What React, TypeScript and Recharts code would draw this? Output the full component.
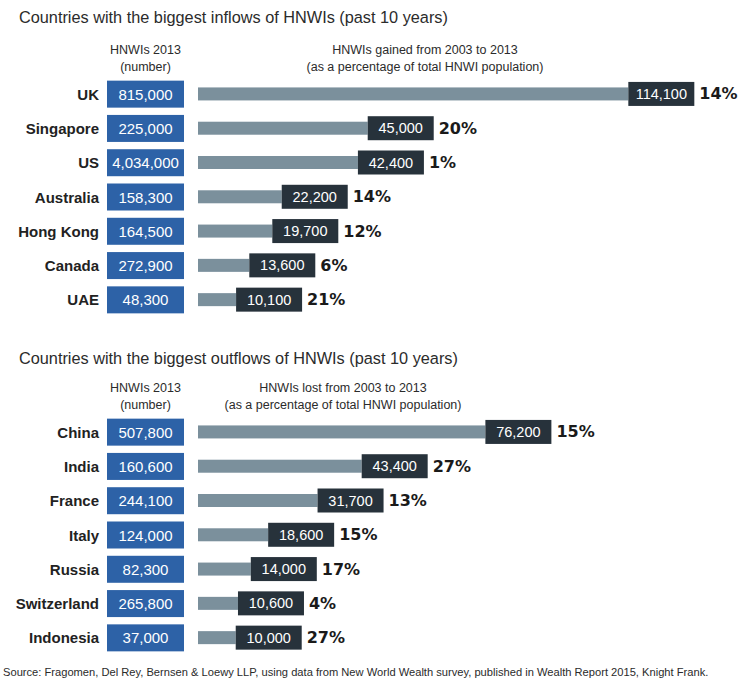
import { BarChart, Bar, XAxis, YAxis } from "recharts";

// Inflows: HNWIs in 2013 and HNWIs gained 2003-2013
const inflowCountries = ["UK", "Singapore", "US", "Australia", "Hong Kong", "Canada", "UAE"];
const inflowTotals = [815000, 225000, 4034000, 158300, 164500, 272900, 48300];
const inflowGained = [114100, 45000, 42400, 22200, 19700, 13600, 10100];
const inflowPct = [14, 20, 1, 14, 12, 6, 21];

// Outflows: HNWIs in 2013 and HNWIs lost 2003-2013
const outflowCountries = ["China", "India", "France", "Italy", "Russia", "Switzerland", "Indonesia"];
const outflowTotals = [507800, 160600, 244100, 124000, 82300, 265800, 37000];
const outflowLost = [76200, 43400, 31700, 18600, 14000, 10600, 10000];
const outflowPct = [15, 27, 13, 15, 17, 4, 27];

const FONT = '"Liberation Sans", Arial, sans-serif';
const BLUE = "#2d62a7";
const GREY = "#7b909c";
const DARK = "#27323b";
const TEXT = "#2b2b2b";

const X_MAX = 140000;
const LABEL_BOX = 66;

type Row = { country: string; total: number; change: number; pct: number };

const buildRows = (countries: string[], totals: number[], changes: number[], pcts: number[]): Row[] =>
  countries.map((country, i) => ({ country, total: totals[i], change: changes[i], pct: pcts[i] }));

const inflowRows = buildRows(inflowCountries, inflowTotals, inflowGained, inflowPct);
const outflowRows = buildRows(outflowCountries, outflowTotals, outflowLost, outflowPct);

const fmt = (v: number) => v.toLocaleString("en-US");

// country name + blue box with the 2013 total, drawn at each category tick
function CountryTick(props: any) {
  const { y, payload, rows } = props;
  const row = (rows as Row[]).find((r) => r.country === payload.value);
  return (
    <g>
      <text x={99} y={y} textAnchor="end" dominantBaseline="central" fontWeight="bold" fontSize={15} fill="#222">
        {payload.value}
      </text>
      <rect x={107} y={y - 13.5} width={77} height={27} fill={BLUE} />
      <text x={145.5} y={y} textAnchor="middle" dominantBaseline="central" fontSize={15} fill="#fff">
        {row ? fmt(row.total) : ""}
      </text>
    </g>
  );
}

// thin grey bar, dark value box at its end, then the percentage
function ChangeBar(props: any) {
  const { x, y, width, height, payload } = props;
  const cy = y + height / 2;
  const end = x + width;
  return (
    <g>
      <rect x={x} y={cy - 6.5} width={width} height={13} fill={GREY} />
      <rect x={end} y={cy - 12} width={LABEL_BOX} height={24} fill={DARK} />
      <text x={end + LABEL_BOX / 2} y={cy} textAnchor="middle" dominantBaseline="central" fontSize={14.5} fill="#fff">
        {fmt(payload.change)}
      </text>
      <text
        x={end + LABEL_BOX + 5}
        y={cy}
        dominantBaseline="central"
        fontFamily='"DejaVu Sans", sans-serif'
        fontWeight="bold"
        fontSize={16}
        fill="#1a1a1a"
      >
        {payload.pct}%
      </text>
    </g>
  );
}

function Panel({ rows, top }: { rows: Row[]; top: number }) {
  return (
    <div style={{ position: "absolute", left: 0, top }}>
      <BarChart
        width={750}
        height={240}
        data={rows}
        layout="vertical"
        margin={{ top: 0, right: 24, bottom: 0, left: 0 }}
      >
        <XAxis type="number" hide domain={[0, X_MAX]} />
        <YAxis
          type="category"
          dataKey="country"
          width={198}
          axisLine={false}
          tickLine={false}
          interval={0}
          tick={(p: any) => <CountryTick {...p} rows={rows} />}
        />
        <Bar dataKey="change" isAnimationActive={false} shape={(p: any) => <ChangeBar {...p} />} />
      </BarChart>
    </div>
  );
}

const textAt = (left: number, top: number, size: number, extra: React.CSSProperties = {}): React.CSSProperties => ({
  position: "absolute",
  left,
  top,
  fontSize: size,
  lineHeight: 1,
  color: TEXT,
  whiteSpace: "nowrap",
  transform: "translateY(-50%)",
  ...extra,
});

const centered = { transform: "translate(-50%, -50%)", textAlign: "center" as const };

function Header({ top, center2, line1 }: { top: number; center2: number; line1: string }) {
  return (
    <>
      <div style={textAt(145.5, top, 12.5, centered)}>HNWIs 2013</div>
      <div style={textAt(145.5, top + 17, 12.5, centered)}>(number)</div>
      <div style={textAt(center2, top, 12.5, centered)}>{line1}</div>
      <div style={textAt(center2, top + 17, 12.5, centered)}>(as a percentage of total HNWI population)</div>
    </>
  );
}

export default function App() {
  return (
    <div
      style={{
        position: "absolute",
        left: 0,
        top: 0,
        width: 750,
        height: 682,
        background: "#fff",
        fontFamily: FONT,
        overflow: "hidden",
      }}
    >
      <div style={textAt(19, 17, 16.3)}>Countries with the biggest inflows of HNWIs (past 10 years)</div>
      <Header top={50} center2={425} line1="HNWIs gained from 2003 to 2013" />
      <Panel rows={inflowRows} top={77} />

      <div style={textAt(19, 358, 16.3)}>Countries with the biggest outflows of HNWIs (past 10 years)</div>
      <Header top={388} center2={343} line1="HNWIs lost from 2003 to 2013" />
      <Panel rows={outflowRows} top={415} />

      <div style={textAt(3, 673, 11.15)}>
        Source: Fragomen, Del Rey, Bernsen &amp; Loewy LLP, using data from New World Wealth survey, published in Wealth
        Report 2015, Knight Frank.
      </div>
    </div>
  );
}
